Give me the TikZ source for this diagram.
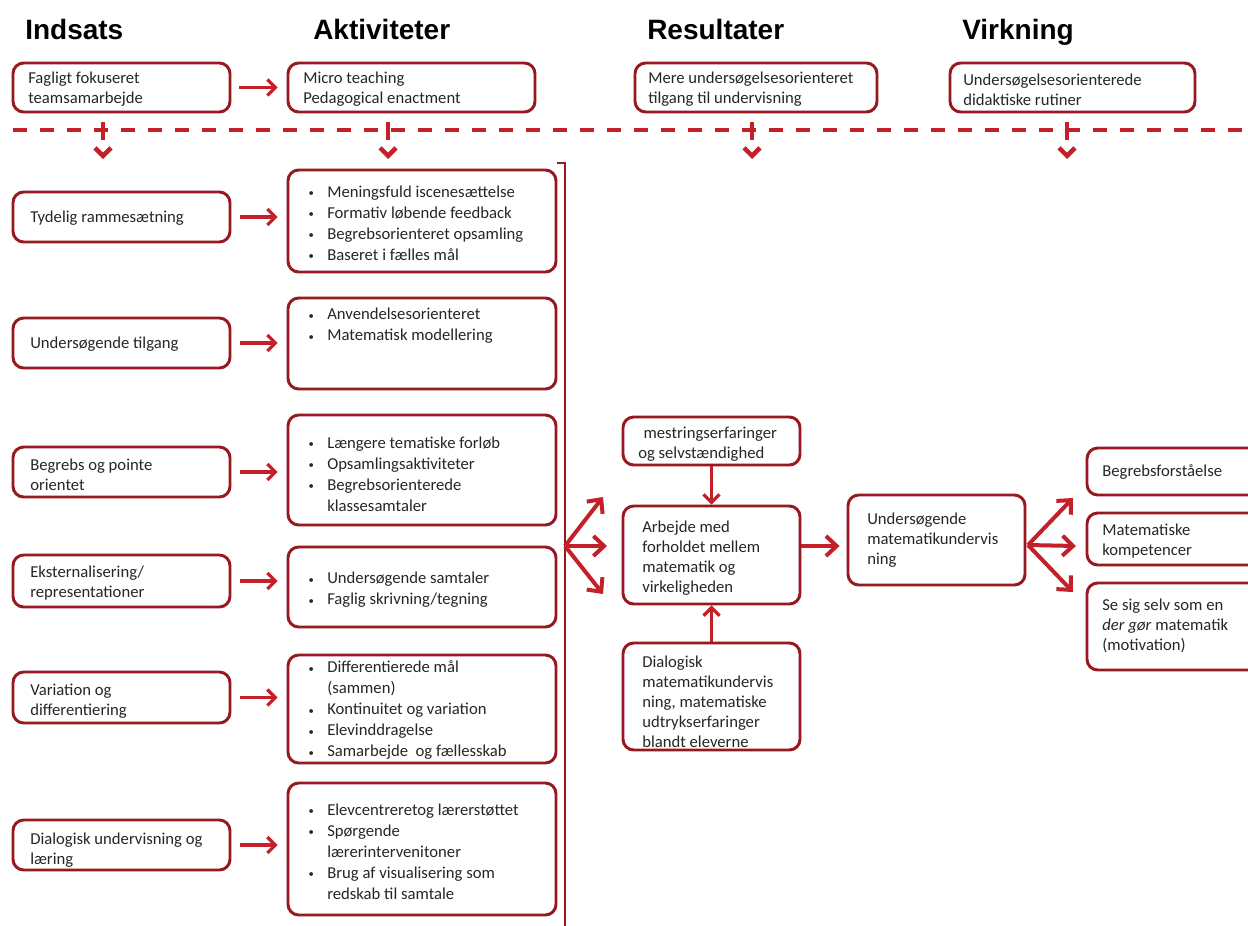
\documentclass[tikz,border=0pt]{standalone}
\usepackage{fontspec}
\setmainfont{Carlito}
\newfontfamily\headfont{Liberation Sans}
\usetikzlibrary{arrows.meta,fit,calc}
\definecolor{boxred}{RGB}{150,25,32}
\definecolor{arrred}{RGB}{196,32,42}
\newcommand\bl{\makebox[15pt][l]{\hspace{1pt}\raisebox{0.6pt}{\footnotesize\textbullet}}}
\newcommand\ind{\hspace*{15pt}}
\tikzset{
 box/.style={draw=boxred, line width=2.2pt, rounded corners=8pt, inner sep=0pt},
 txt/.style={anchor=west, align=left, inner sep=0pt, text=black!85, font=\fontsize{12.5}{15}\selectfont},
 btxt/.style={txt, font=\fontsize{12.5}{15.75}\selectfont},
 head/.style={anchor=base west, inner sep=0pt, font=\headfont\bfseries\fontsize{21}{25}\selectfont},
 harr/.style={draw=arrred, line width=2.4pt, -{Straight Barb[length=6pt,width=12pt]}},
 farr/.style={draw=arrred, line width=3pt, -{Straight Barb[length=8pt,width=15pt]}},
 vdash/.style={draw=arrred, line width=3pt, dash pattern=on 0pt off 6.75pt on 13.5pt off 40pt, -{Straight Barb[length=6pt,width=12pt,line width=3.4pt]}},
 sepline/.style={draw=arrred, line width=3pt, dash pattern=on 10.5pt off 9.75pt},
}
\begin{document}
\begin{tikzpicture}[x=0.75pt,y=-0.75pt]
\useasboundingbox (0,0) rectangle (1248,925);
\clip (0,0) rectangle (1248,925);
\fill[white] (0,0) rectangle (1248,925);

% headers
\node[head] (h1) at (25,39) {Indsats};
\node[head] (h2) at (313,39) {Aktiviteter};
\node[head] (h3) at (647,39) {Resultater};
\node[head] (h4) at (962,39) {Virkning};

% top row
\node[box, fit={(13,63) (230,112)}] (fag) {};
\node[box, fit={(288,63) (535,112)}] (micro) {};
\node[box, fit={(635,63) (877,112)}] (mere) {};
\node[box, fit={(950,63) (1195,112)}] (rut) {};
\node[txt] (tfag) at (28,89.5) {Fagligt fokuseret\\teamsamarbejde};
\node[txt] (tmicro) at (303,89.5) {Micro teaching\\Pedagogical enactment};
\node[txt] (tmere) at (648,89.5) {Mere undersøgelsesorienteret\\tilgang til undervisning};
\node[txt] (trut) at (963,89.5) {Undersøgelsesorienterede\\didaktiske rutiner};
\draw[harr] (fag.east) ++(8,0) -- ($(micro.west)+(-9,0)$);

% separator
\draw[sepline] (13,130) -- (1260,130);
\draw[vdash] (fag.south -| 103,0) -- (103,159);
\draw[vdash] (micro.south -| 388,0) -- (388,159);
\draw[vdash] (mere.south -| 752,0) -- (752,159);
\draw[vdash] (rut.south -| 1067,0) -- (1067,159);

% left column
\node[box, fit={(13,192) (230,242)}] (tyd) {};
\node[box, fit={(13,318) (230,368)}] (uts) {};
\node[box, fit={(13,447) (230,497)}] (beg) {};
\node[box, fit={(13,555) (230,607)}] (eks) {};
\node[box, fit={(13,672) (230,723)}] (var) {};
\node[box, fit={(13,820) (230,870)}] (dia) {};
\node[txt] (ttyd) at (30,218) {Tydelig rammesætning};
\node[txt] (tuts) at (30,344) {Undersøgende tilgang};
\node[txt] (tbeg) at (30,475) {Begrebs og pointe\\orientet};
\node[txt] (teks) at (30,583) {Eksternalisering/\\representationer};
\node[txt] (tvar) at (30,701) {Variation og\\differentiering};
\node[txt] (tdia) at (30,850) {Dialogisk undervisning og\\læring};

% middle column
\node[box, fit={(288,170) (556,272)}] (m1) {};
\node[box, fit={(288,298) (556,389)}] (m2) {};
\node[box, fit={(288,415) (556,525)}] (m3) {};
\node[box, fit={(288,547) (556,627)}] (m4) {};
\node[box, fit={(288,655) (556,763)}] (m5) {};
\node[box, fit={(288,783) (556,915)}] (m6) {};
\node[btxt] (tm1) at (307,223.5) {\bl Meningsfuld iscenesættelse\\\bl Formativ løbende feedback\\\bl Begrebsorienteret opsamling\\\bl Baseret i fælles mål};
\node[btxt] (tm2) at (307,326) {\bl Anvendelsesorienteret\\\bl Matematisk modellering};
\node[btxt] (tm3) at (307,474) {\bl Længere tematiske forløb\\\bl Opsamlingsaktiviteter\\\bl Begrebsorienterede\\\ind klassesamtaler};
\node[btxt] (tm4) at (307,590) {\bl Undersøgende samtaler\\\bl Faglig skrivning/tegning};
\node[btxt] (tm5) at (307,710.5) {\bl Differentierede mål\\\ind (sammen)\\\bl Kontinuitet og variation\\\bl Elevinddragelse\\\bl Samarbejde\ \ og fællesskab};
\node[btxt] (tm6) at (307,852) {\bl Elevcentreretog lærerstøttet\\\bl Spørgende\\\ind lærerintervenitoner\\\bl Brug af visualisering som\\\ind redskab til samtale};

\draw[harr] (tyd.east) ++(9,0) -- ($(tyd.east -| m1.west)+(-9,0)$);
\draw[harr] (uts.east) ++(9,0) -- ($(uts.east -| m2.west)+(-9,0)$);
\draw[harr] (beg.east) ++(9,0) -- ($(beg.east -| m3.west)+(-9,0)$);
\draw[harr] (eks.east) ++(9,0) -- ($(eks.east -| m4.west)+(-9,0)$);
\draw[harr] (var.east) ++(9,0) -- ($(var.east -| m5.west)+(-9,0)$);
\draw[harr] (dia.east) ++(9,0) -- ($(dia.east -| m6.west)+(-9,0)$);

% bracket
\draw[draw=boxred, line width=1.6pt] (557,163) -- (565,163) -- (565,930);
\coordinate (brk) at (565,546);
\coordinate (f1) at (603,497);
\coordinate (f2) at (607,546);
\coordinate (f3) at (603,594);
\draw[farr] (brk) -- (f1);
\draw[farr] (brk) -- (f2);
\draw[farr] (brk) -- (f3);

% results column
\node[box, fit={(623,417) (800,465)}] (mes) {};
\node[box, fit={(623,506) (800,604)}] (arb) {};
\node[box, fit={(623,643) (800,750)}] (dlg) {};
\node[txt] (tmes) at (638,444) {\hspace{4pt}mestringserfaringer\\og selvstændighed};
\node[txt] (tarb) at (642,558) {Arbejde med\\forholdet mellem\\matematik og\\virkeligheden};
\node[txt] (tdlg) at (642,701.5) {Dialogisk\\matematikundervis\\ning, matematiske\\udtrykserfaringer\\blandt eleverne};
\draw[harr] (mes.south) -- (arb.north);
\draw[harr] (dlg.north) -- (arb.south);

% right
\node[box, fit={(848,495) (1025,585)}] (um) {};
\node[txt] (tum) at (867,540) {Undersøgende\\matematikundervis\\ning};
\draw[farr] ($(arb.east)+(0,-9)$) -- ($(um.west)+(-7,6)$);

\node[box, fit={(1087,448) (1262,495)}] (bf) {};
\node[box, fit={(1087,513) (1262,565)}] (mk) {};
\node[box, fit={(1087,583) (1262,670)}] (ss) {};
\node[txt] (tbf) at (1102,472) {Begrebsforståelse};
\node[txt] (tmk) at (1102,541) {Matematiske\\kompetencer};
\node[txt] (tss) at (1102,626) {Se sig selv som en\\\textit{der gør} matematik\\(motivation)};
\coordinate (rf) at (1028,545);
\coordinate (g1) at (1073,498);
\coordinate (g2) at (1076,546);
\coordinate (g3) at (1073,592);
\draw[farr] (rf) -- (g1);
\draw[farr] (rf) -- (g2);
\draw[farr] (rf) -- (g3);
\end{tikzpicture}
\end{document}
